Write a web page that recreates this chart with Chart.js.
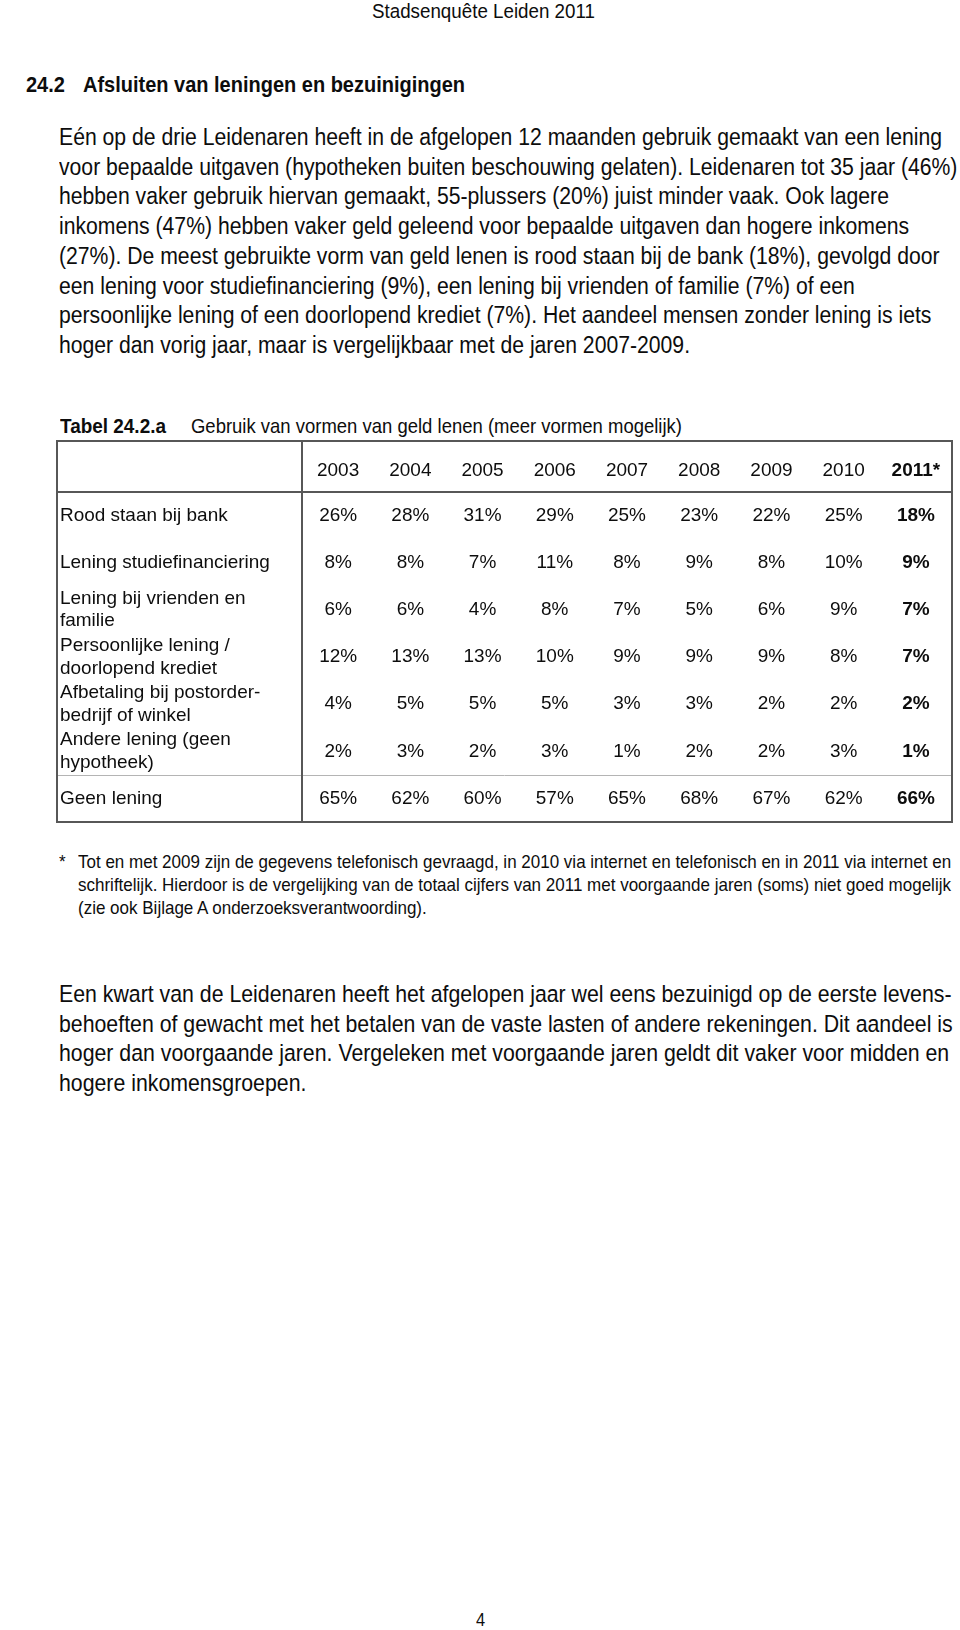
<!DOCTYPE html>
<html>
<head>
<meta charset="utf-8">
<title>Stadsenquête Leiden 2011</title>
<script src="https://cdn.jsdelivr.net/npm/chart.js@4.4.1/dist/chart.umd.min.js"></script>
<style>
  html, body { margin: 0; padding: 0; background: #fff; }
  body { width: 960px; height: 1630px; position: relative; overflow: hidden;
         font-family: "Liberation Sans", Arial, sans-serif; color: #0d0d0d; }
  .t { position: absolute; white-space: nowrap; transform-origin: left center; }
  .b { font-weight: bold; }
  #tabelWrap { position: absolute; left: 0; top: 420px; width: 960px; height: 430px; }
</style>
</head>
<body>

<div class="t" id="kop" style="left:372px;top:0px;line-height:21px;font-size:17px">Stadsenquête Leiden 2011</div>

<div class="t b" id="hNr" style="left:26px;top:73px;line-height:24px;font-size:20px">24.2</div>
<div class="t b" id="hTxt" style="left:83px;top:73px;line-height:24px;font-size:20px">Afsluiten van leningen en bezuinigingen</div>

<div class="t" id="p1" style="left:59px;top:123px;line-height:29.7px;font-size:19px">Eén op de drie Leidenaren heeft in de afgelopen 12 maanden gebruik gemaakt van een lening<br>voor bepaalde uitgaven (hypotheken buiten beschouwing gelaten). Leidenaren tot 35 jaar (46%)<br>hebben vaker gebruik hiervan gemaakt, 55-plussers (20%) juist minder vaak. Ook lagere<br>inkomens (47%) hebben vaker geld geleend voor bepaalde uitgaven dan hogere inkomens<br>(27%). De meest gebruikte vorm van geld lenen is rood staan bij de bank (18%), gevolgd door<br>een lening voor studiefinanciering (9%), een lening bij vrienden of familie (7%) of een<br>persoonlijke lening of een doorlopend krediet (7%). Het aandeel mensen zonder lening is iets<br>hoger dan vorig jaar, maar is vergelijkbaar met de jaren 2007-2009.</div>

<div class="t b" id="capNr" style="left:60px;top:415px;line-height:22px;font-size:18px">Tabel 24.2.a</div>
<div class="t" id="capTxt" style="left:191px;top:415px;line-height:22px;font-size:18px">Gebruik van vormen van geld lenen (meer vormen mogelijk)</div>

<div id="tabelWrap"><canvas id="tabel" width="960" height="430"></canvas></div>

<div class="t" id="fnSter" style="left:59px;top:849.5px;line-height:23px;font-size:15px">*</div>
<div class="t" id="fn" style="left:78px;top:849.5px;line-height:23px;font-size:15px">Tot en met 2009 zijn de gegevens telefonisch gevraagd, in 2010 via internet en telefonisch en in 2011 via internet en<br>schriftelijk. Hierdoor is de vergelijking van de totaal cijfers van 2011 met voorgaande jaren (soms) niet goed mogelijk<br>(zie ook Bijlage A onderzoeksverantwoording).</div>

<div class="t" id="p2" style="left:59px;top:980px;line-height:29.7px;font-size:19px">Een kwart van de Leidenaren heeft het afgelopen jaar wel eens bezuinigd op de eerste levens-<br>behoeften of gewacht met het betalen van de vaste lasten of andere rekeningen. Dit aandeel is<br>hoger dan voorgaande jaren. Vergeleken met voorgaande jaren geldt dit vaker voor midden en<br>hogere inkomensgroepen.</div>

<div class="t" id="pagina" style="left:476px;top:1609px;line-height:22px;font-size:17px">4</div>

<script>
var FAM = '"Liberation Sans", Arial, sans-serif';

// tabel 24.2.a
var years = ['2003', '2004', '2005', '2006', '2007', '2008', '2009', '2010', '2011*'];
var rowLabels = [
  ['Rood staan bij bank'],
  ['Lening studiefinanciering'],
  ['Lening bij vrienden en', 'familie'],
  ['Persoonlijke lening /', 'doorlopend krediet'],
  ['Afbetaling bij postorder-', 'bedrijf of winkel'],
  ['Andere lening (geen', 'hypotheek)'],
  ['Geen lening']
];
var roodStaan   = [26, 28, 31, 29, 25, 23, 22, 25, 18];
var studie      = [8, 8, 7, 11, 8, 9, 8, 10, 9];
var vrienden    = [6, 6, 4, 8, 7, 5, 6, 9, 7];
var persoonlijk = [12, 13, 13, 10, 9, 9, 9, 8, 7];
var afbetaling  = [4, 5, 5, 5, 3, 3, 2, 2, 2];
var andere      = [2, 3, 2, 3, 1, 2, 2, 3, 1];
var geenLening  = [65, 62, 60, 57, 65, 68, 67, 62, 66];
var rows = [roodStaan, studie, vrienden, persoonlijk, afbetaling, andere, geenLening];

var rowNames = rowLabels.map(function(l){ return l.join(' '); });

var measure = document.createElement('canvas').getContext('2d');
function textWidth(txt, weight, size) {
  measure.font = weight + ' ' + size + 'px ' + FAM;
  return measure.measureText(txt).width;
}
// lettergrootte zo dat een regel de gemeten breedte krijgt; iets smaller en hoger (zoals de pdf)
var SMAL = 1.1;
function fit(id, line, target, weight) {
  var size = SMAL * 100 * target / textWidth(line, weight || 'normal', 100);
  var el = document.getElementById(id);
  el.style.fontSize = size.toFixed(2) + 'px';
  el.style.transform = 'scaleX(' + (1 / SMAL).toFixed(4) + ')';
  return size;
}
function same(id, size) {
  var el = document.getElementById(id);
  el.style.fontSize = size.toFixed(2) + 'px';
  el.style.transform = 'scaleX(' + (1 / SMAL).toFixed(4) + ')';
}

fit('kop', 'Stadsenquête Leiden 2011', 223);
same('hNr', fit('hTxt', 'Afsluiten van leningen en bezuinigingen', 382, 'bold'));
fit('p1', 'voor bepaalde uitgaven (hypotheken buiten beschouwing gelaten). Leidenaren tot 35 jaar (46%)', 899);
fit('capNr', 'Tabel 24.2.a', 106, 'bold');
fit('capTxt', 'Gebruik van vormen van geld lenen (meer vormen mogelijk)', 491);
same('fnSter', fit('fn', 'Tot en met 2009 zijn de gegevens telefonisch gevraagd, in 2010 via internet en telefonisch en in 2011 via internet en', 874));
fit('p2', 'Een kwart van de Leidenaren heeft het afgelopen jaar wel eens bezuinigd op de eerste levens-', 893);
same('pagina', 18);

var tableSize = +(100 * 210 / textWidth('Lening studiefinanciering', 'normal', 100)).toFixed(2);

var tabelPlugin = {
  id: 'tabelCellen',
  afterDatasetsDraw: function(chart) {
    var ctx = chart.ctx, area = chart.chartArea;
    var xs = chart.scales.x, ys = chart.scales.y;
    ctx.save();

    // celwaarden op de punten van de schalen
    ctx.textAlign = 'center';
    ctx.textBaseline = 'middle';
    ctx.fillStyle = '#0d0d0d';
    chart.data.datasets.forEach(function(ds, di) {
      var meta = chart.getDatasetMeta(di);
      meta.data.forEach(function(pt, i) {
        ctx.font = (i === years.length - 1 ? 'bold ' : '') + tableSize + 'px ' + FAM;
        ctx.fillText(rows[di][i] + '%', pt.x, pt.y);
      });
    });

    // lichte lijn boven "Geen lening"
    var sy = Math.round((ys.getPixelForValue(rows.length - 2) + ys.getPixelForValue(rows.length - 1)) / 2) + 0.5;
    var left = ys.left - 3;
    ctx.strokeStyle = '#b4b4b4';
    ctx.lineWidth = 1;
    ctx.beginPath();
    ctx.moveTo(left, sy);
    ctx.lineTo(area.right, sy);
    ctx.stroke();

    // kader
    var top = xs.top;
    ctx.strokeStyle = '#575757';
    ctx.lineWidth = 2;
    ctx.strokeRect(left, top, area.right - left, area.bottom - top);
    ctx.beginPath();
    ctx.moveTo(left, area.top);
    ctx.lineTo(area.right, area.top);
    ctx.moveTo(area.left, top);
    ctx.lineTo(area.left, area.bottom);
    ctx.stroke();
    ctx.restore();
  }
};

var datasets = rows.map(function(r, ri) {
  return {
    label: rowNames[ri],
    data: r.map(function(v, i) { return { x: years[i], y: rowNames[ri] }; }),
    pointRadius: 0,
    pointHoverRadius: 0
  };
});

new Chart(document.getElementById('tabel'), {
  type: 'scatter',
  data: { datasets: datasets },
  options: {
    responsive: false,
    animation: false,
    events: [],
    layout: { padding: { left: 60, right: 8, top: 21, bottom: 28 } },
    plugins: { legend: { display: false }, tooltip: { enabled: false } },
    scales: {
      x: {
        type: 'category',
        labels: years,
        position: 'top',
        offset: true,
        grid: { display: false, drawTicks: false },
        border: { display: false },
        ticks: {
          color: '#0d0d0d',
          padding: 10,
          autoSkip: false,
          maxRotation: 0,
          font: function(c) {
            return { family: FAM, size: tableSize, weight: c.index === years.length - 1 ? 'bold' : 'normal' };
          }
        },
        afterFit: function(s) { s.height = 51; }
      },
      y: {
        type: 'category',
        labels: rowNames,
        offset: true,
        grid: { display: false, drawTicks: false },
        border: { display: false },
        ticks: {
          color: '#0d0d0d',
          crossAlign: 'far',
          autoSkip: false,
          font: { family: FAM, size: tableSize, lineHeight: 1.2 },
          callback: function(v, i) { return rowLabels[i]; }
        },
        afterFit: function(s) { s.width = 242; }
      }
    }
  },
  plugins: [tabelPlugin]
});
</script>
</body>
</html>
